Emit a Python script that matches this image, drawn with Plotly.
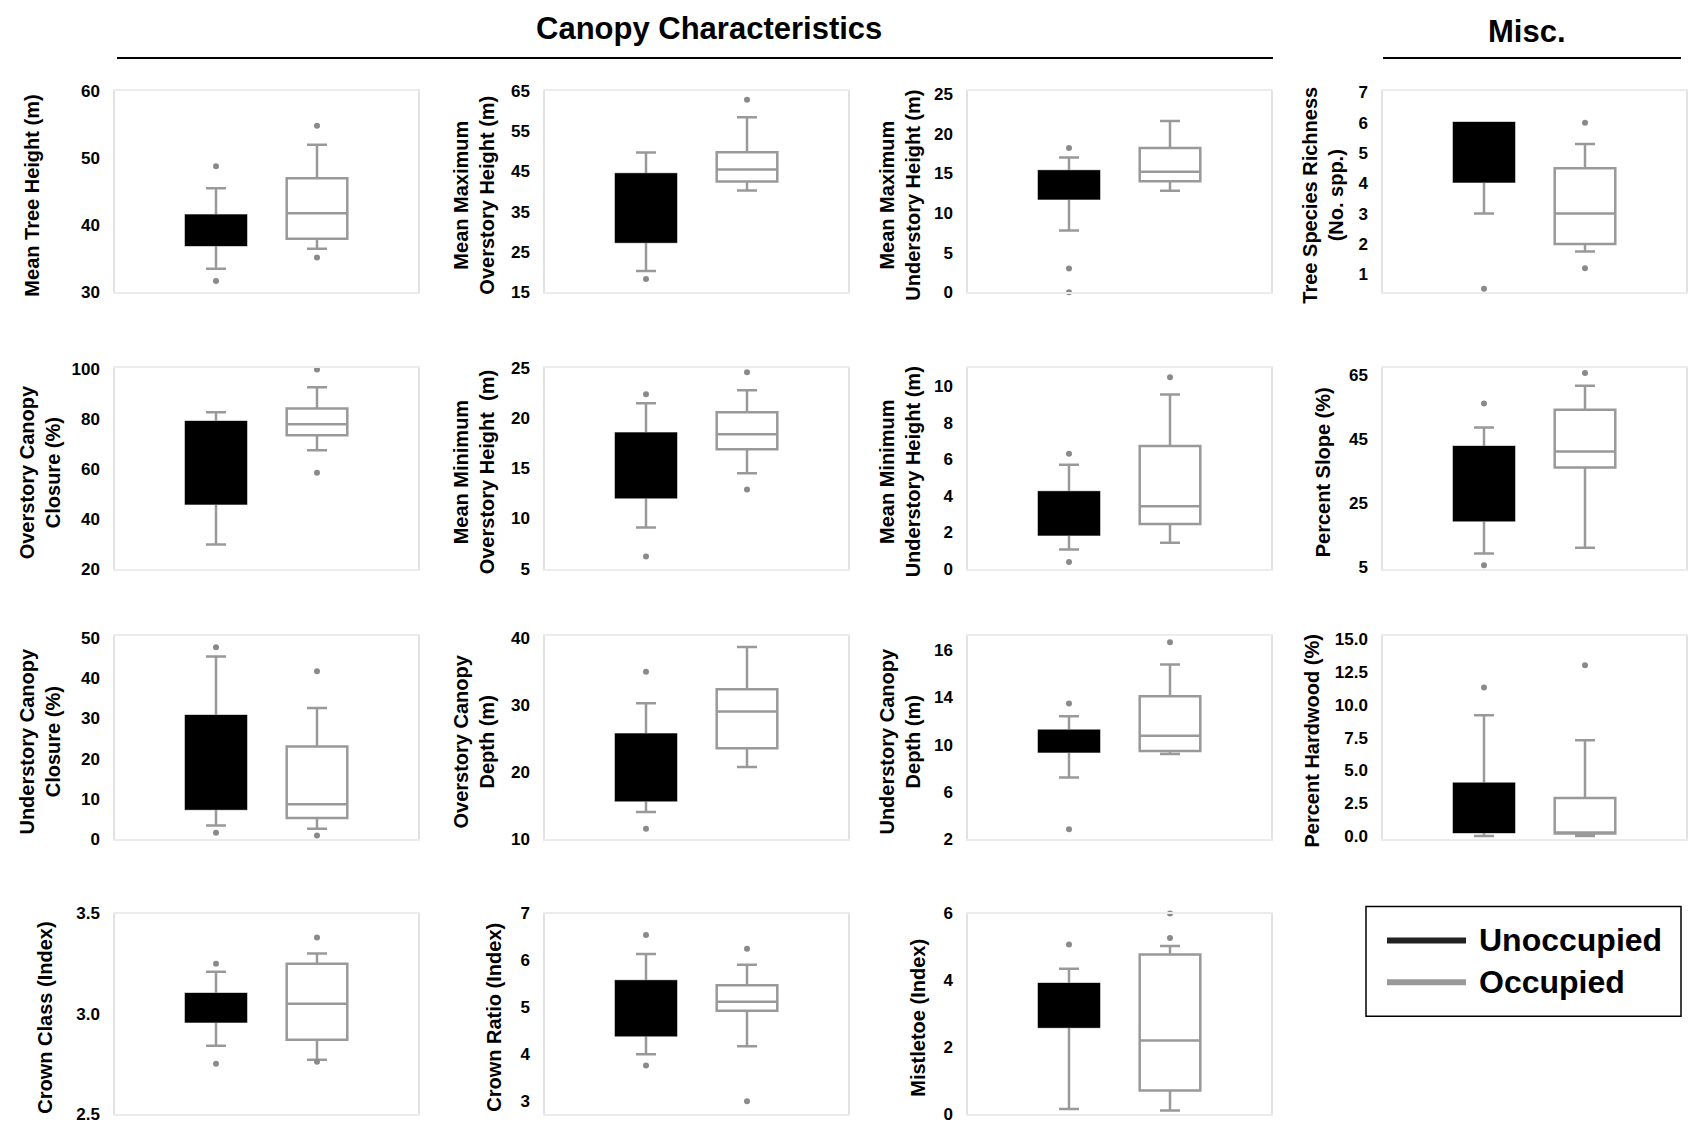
import plotly.graph_objects as go

W, H = 1703, 1124
# observed placement of the figure on the photographed page (vertical)
Y_OFF, Y_SCALE = 7.8, 0.986

# ---------------- data ----------------
titles = [
    "Mean Tree Height (m)",
    "Mean Maximum<br>Overstory Height (m)",
    "Mean Maximum<br>Understory Height (m)",
    "Tree Species Richness<br>(No. spp.)",
    "Overstory Canopy<br>Closure (%)",
    "Mean Minimum<br>Overstory Height  (m)",
    "Mean Minimum<br>Understory Height (m)",
    "Percent Slope (%)",
    "Understory Canopy<br>Closure (%)",
    "Overstory Canopy<br>Depth (m)",
    "Understory Canopy<br>Depth (m)",
    "Percent Hardwood (%)",
    "Crown Class (Index)",
    "Crown Ratio (Index)",
    "Mistletoe (Index)",
]

# Unoccupied
un_lo = [33.5, 20.3, 7.8, 3.0, 29.7, 9.1, 1.05, 9.2, 3.3, 14.0, 7.2, 0.0, 2.84, 4.0, 0.15]
un_q1 = [37.0, 27.5, 11.8, 4.05, 46.0, 12.1, 1.85, 19.5, 7.4, 15.7, 9.4, 0.3, 2.96, 4.4, 2.6]
un_med = [39.5, 36.0, 13.8, 5.0, 62.0, 15.0, 3.0, 30.0, 18.0, 20.0, 10.3, 1.5, 3.03, 5.0, 3.2]
un_q3 = [41.5, 44.4, 15.3, 6.0, 79.0, 18.5, 4.2, 42.5, 30.7, 25.6, 11.2, 4.0, 3.10, 5.56, 3.9]
un_hi = [45.5, 49.7, 17.0, 6.0, 82.8, 21.5, 5.7, 48.5, 45.5, 30.2, 12.4, 9.2, 3.21, 6.14, 4.35]
un_out = [[48.8, 31.7], [18.3], [18.2, 3.0, 0.0], [0.52], [19.5], [22.4, 6.2], [6.3, 0.36],
          [56.0, 5.5], [47.8, 1.5], [34.9, 11.5], [13.5, 2.8], [11.3], [3.25, 2.75],
          [6.54, 3.76], [5.07]]

# Occupied
oc_lo = [36.5, 40.3, 12.8, 1.75, 67.5, 14.5, 1.42, 11.0, 2.5, 20.7, 9.2, 0.0, 2.77, 4.17, 0.1]
oc_q1 = [38.0, 42.5, 14.0, 2.0, 73.5, 16.9, 2.45, 36.0, 5.2, 23.5, 9.45, 0.2, 2.87, 4.93, 0.7]
oc_med = [41.8, 45.5, 15.2, 3.0, 78.0, 18.4, 3.42, 41.0, 8.6, 29.0, 10.75, 0.25, 3.05, 5.12, 2.2]
oc_q3 = [47.0, 49.8, 18.2, 4.5, 84.3, 20.6, 6.73, 54.0, 23.0, 32.3, 14.1, 2.9, 3.25, 5.47, 4.77]
oc_hi = [52.0, 58.5, 21.6, 5.3, 92.8, 22.8, 9.55, 61.5, 32.6, 38.6, 16.8, 7.3, 3.30, 5.91, 5.03]
oc_out = [[54.8, 35.2], [62.8], [25.5], [6.0, 1.2], [100.0, 58.5], [24.6, 12.9], [10.5],
          [65.5], [41.8, 0.8], [], [18.7], [13.0], [3.38, 2.76], [6.25, 3.0], [5.27, 6.0]]

# tick labels
tick_vals = [
    [30, 40, 50, 60], [15, 25, 35, 45, 55, 65], [0, 5, 10, 15, 20, 25], [1, 2, 3, 4, 5, 6, 7],
    [20, 40, 60, 80, 100], [5, 10, 15, 20, 25], [0, 2, 4, 6, 8, 10], [5, 25, 45, 65],
    [0, 10, 20, 30, 40, 50], [10, 20, 30, 40], [2, 6, 10, 14, 18],
    [0, 2.5, 5, 7.5, 10, 12.5, 15], [2.5, 3.0, 3.5], [3, 4, 5, 6, 7], [0, 2, 4, 6],
]
tick_text = [
    ["30", "40", "50", "60"], ["15", "25", "35", "45", "55", "65"], ["0", "5", "10", "15", "20", "25"],
    ["1", "2", "3", "4", "5", "6", "7"], ["20", "40", "60", "80", "100"], ["5", "10", "15", "20", "25"],
    ["0", "2", "4", "6", "8", "10"], ["5", "25", "45", "65"], ["0", "10", "20", "30", "40", "50"],
    ["10", "20", "30", "40"], ["2", "6", "10", "14", "16"],
    ["0.0", "2.5", "5.0", "7.5", "10.0", "12.5", "15.0"], ["2.5", "3.0", "3.5"],
    ["3", "4", "5", "6", "7"], ["0", "2", "4", "6"],
]

# ---------------- layout constants (target screen pixels) ----------------
y_ranges = [
    [30, 60], [15, 65], [0, 25.4], [0.4, 7.05],
    [20, 100.5], [5, 25], [0, 11], [4.5, 67],
    [0, 50.5], [10, 40.2], [2, 19.2], [-0.2, 15.2],
    [2.5, 3.5], [2.73, 7.0], [0, 6.0],
]
col_x = [(115, 418), (545, 848), (968, 1271), (1383, 1686)]
row_y = [(90, 292), (368, 569), (637, 840), (915, 1116)]
title_x = [32, 474, 900, 1323,
           40, 474, 900, 1323,
           40, 474, 900, 1312,
           45, 494, 918]

GRAY = "#999999"
DOT = "#8a8a8a"
FRAME = "#ececec"
FONT = "Liberation Sans, Arial, sans-serif"


def fx(p):
    return p / W


def fy(p):
    q = (p - Y_OFF) / Y_SCALE
    return min(1.0, max(0.0, 1 - q / H))


fig = go.Figure()
layout_axes = {}
annotations = []

for i in range(15):
    r, c = divmod(i, 4)
    n = i + 1
    xa = "x" if n == 1 else f"x{n}"
    ya = "y" if n == 1 else f"y{n}"
    xkey = "xaxis" if n == 1 else f"xaxis{n}"
    ykey = "yaxis" if n == 1 else f"yaxis{n}"
    x0, x1 = col_x[c]
    yt, yb = row_y[r]

    # Unoccupied: whiskers (gray) + black box on top
    fig.add_trace(go.Box(
        x=[0], q1=[un_q1[i]], median=[un_med[i]], q3=[un_q3[i]],
        lowerfence=[un_lo[i]], upperfence=[un_hi[i]], orientation="v",
        width=0.6, whiskerwidth=0.33, fillcolor="black",
        line=dict(color=GRAY, width=2.5), boxpoints=False,
        xaxis=xa, yaxis=ya, showlegend=False, hoverinfo="skip"))
    fig.add_trace(go.Box(
        x=[0], q1=[un_q1[i]], median=[un_med[i]], q3=[un_q3[i]],
        lowerfence=[un_q1[i]], upperfence=[un_q3[i]], orientation="v",
        width=0.6, whiskerwidth=0, fillcolor="black",
        line=dict(color="black", width=1.5), boxpoints=False,
        xaxis=xa, yaxis=ya, showlegend=False, hoverinfo="skip"))
    # Occupied
    fig.add_trace(go.Box(
        x=[1], q1=[oc_q1[i]], median=[oc_med[i]], q3=[oc_q3[i]],
        lowerfence=[oc_lo[i]], upperfence=[oc_hi[i]], orientation="v",
        width=0.6, whiskerwidth=0.33, fillcolor="white",
        line=dict(color=GRAY, width=2.5), boxpoints=False,
        xaxis=xa, yaxis=ya, showlegend=False, hoverinfo="skip"))
    # outliers
    fig.add_trace(go.Scatter(
        x=[0] * len(un_out[i]) + [1] * len(oc_out[i]), y=un_out[i] + oc_out[i],
        mode="markers", marker=dict(color=DOT, size=6),
        xaxis=xa, yaxis=ya, showlegend=False, hoverinfo="skip", cliponaxis=False))

    layout_axes[xkey] = dict(
        domain=[fx(x0), fx(x1)], range=[-1, 2], anchor=ya,
        showticklabels=False, showgrid=False, zeroline=False,
        showline=True, linecolor=FRAME, linewidth=1.5, mirror=True, ticks="")
    layout_axes[ykey] = dict(
        domain=[fy(yb), fy(yt)], range=y_ranges[i], anchor=xa,
        tickvals=tick_vals[i], ticktext=tick_text[i],
        tickfont=dict(family=FONT, size=17, color="black", weight="bold"),
        ticklabelstandoff=10,
        showgrid=False, zeroline=False, showline=True, linecolor="#e2e2e2",
        linewidth=1.5, mirror=True, ticks="")

    annotations.append(dict(
        text=titles[i], x=fx(title_x[i]), y=fy((yt + yb) / 2 + 4),
        xref="paper", yref="paper", xanchor="center", yanchor="middle",
        textangle=-90, showarrow=False,
        font=dict(family=FONT, size=20, color="black", weight="bold")))

# section headings
annotations.append(dict(text="Canopy Characteristics", x=fx(709), y=fy(27), xref="paper", yref="paper",
                        showarrow=False, xanchor="center", yanchor="middle",
                        font=dict(family=FONT, size=31, color="black", weight="bold")))
annotations.append(dict(text="Misc.", x=fx(1527), y=fy(30), xref="paper", yref="paper",
                        showarrow=False, xanchor="center", yanchor="middle",
                        font=dict(family=FONT, size=31, color="black", weight="bold")))

# legend (drawn)
LEGFONT = "Liberation Sans Narrow, Liberation Sans, Arial Narrow, sans-serif"
annotations.append(dict(text="Unoccupied", x=fx(1477), y=fy(942), xref="paper", yref="paper",
                        showarrow=False, xanchor="left", yanchor="middle",
                        font=dict(family=LEGFONT, size=32, color="black", weight="bold")))
annotations.append(dict(text="Occupied", x=fx(1477), y=fy(984), xref="paper", yref="paper",
                        showarrow=False, xanchor="left", yanchor="middle",
                        font=dict(family=LEGFONT, size=32, color="black", weight="bold")))

shapes = [
    dict(type="line", xref="paper", yref="paper", x0=fx(117), x1=fx(1273), y0=fy(57), y1=fy(57),
         line=dict(color="black", width=2)),
    dict(type="line", xref="paper", yref="paper", x0=fx(1383), x1=fx(1681), y0=fy(57), y1=fy(57),
         line=dict(color="black", width=2)),
    dict(type="rect", xref="paper", yref="paper", x0=fx(1366), x1=fx(1681), y0=fy(1018), y1=fy(908),
         line=dict(color="black", width=1.5)),
    dict(type="line", xref="paper", yref="paper", x0=fx(1387), x1=fx(1466), y0=fy(942), y1=fy(942),
         line=dict(color="#222222", width=6)),
    dict(type="line", xref="paper", yref="paper", x0=fx(1387), x1=fx(1466), y0=fy(984), y1=fy(984),
         line=dict(color=GRAY, width=6)),
]

fig.update_layout(
    width=W, height=H, margin=dict(l=0, r=0, t=0, b=0),
    paper_bgcolor="white", plot_bgcolor="white",
    annotations=annotations, shapes=shapes, showlegend=False,
    **layout_axes)

fig.write_html("out.html", config={"displayModeBar": False},
               post_script="document.body.style.margin='0';document.body.style.overflow='hidden';")
